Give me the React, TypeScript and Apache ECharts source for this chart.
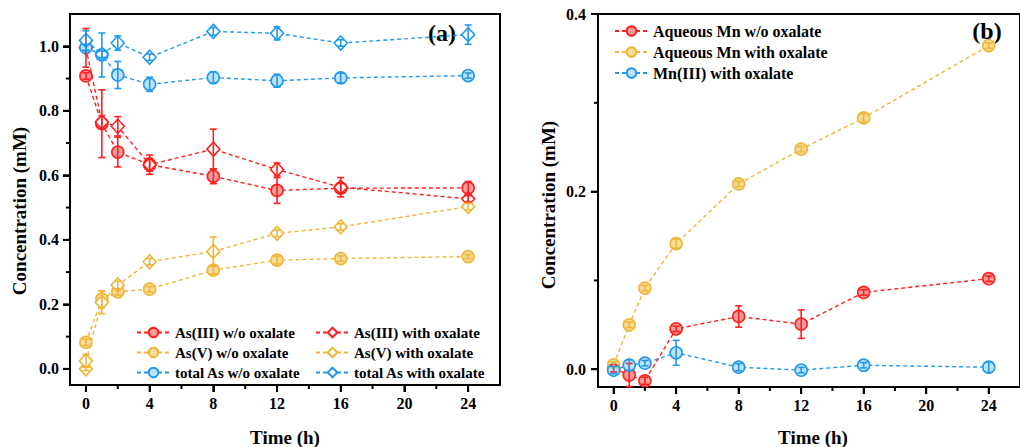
import React, { useEffect, useRef } from "react";
import * as echarts from "echarts";

// ---------- data ----------
const times = [0, 1, 2, 4, 8, 12, 16, 24];

// panel (a)
const asIIIWo = [0.908, 0.76, 0.672, 0.633, 0.597, 0.553, 0.56, 0.561];
const asIIIWoErr = [0.01, 0.105, 0.046, 0.03, 0.023, 0.04, 0.015, 0.02];
const asIIIWith = [0.995, 0.765, 0.752, 0.633, 0.681, 0.618, 0.563, 0.527];
const asIIIWithErr = [0.06, 0.02, 0.03, 0.02, 0.062, 0.02, 0.03, 0.01];
const asVWo = [0.082, 0.216, 0.239, 0.247, 0.306, 0.337, 0.342, 0.348];
const asVWoErr = [0.01, 0.025, 0.01, 0.008, 0.012, 0.012, 0.008, 0.006];
const asVWithTimes = [0, 0, 1, 2, 4, 8, 12, 16, 24];
const asVWith = [0.0, 0.025, 0.206, 0.26, 0.332, 0.364, 0.42, 0.44, 0.503];
const asVWithErr = [0.005, 0.02, 0.035, 0.012, 0.01, 0.045, 0.01, 0.01, 0.01];
const totalWo = [0.996, 0.973, 0.911, 0.882, 0.903, 0.893, 0.902, 0.909];
const totalWoErr = [0.01, 0.068, 0.042, 0.022, 0.018, 0.02, 0.015, 0.008];
const totalWith = [1.018, 0.975, 1.01, 0.966, 1.046, 1.04, 1.01, 1.036];
const totalWithErr = [0.03, 0.01, 0.022, 0.01, 0.012, 0.02, 0.01, 0.03];

// panel (b)
const mnWo = [0.001, -0.0065, -0.013, 0.0455, 0.0594, 0.0508, 0.0865, 0.102];
const mnWoErr = [0.004, 0.013, 0.004, 0.003, 0.012, 0.016, 0.003, 0.003];
const mnWith = [0.005, 0.05, 0.0914, 0.1414, 0.2087, 0.2478, 0.283, 0.3644];
const mnWithErr = [0.003, 0.003, 0.003, 0.005, 0.003, 0.003, 0.005, 0.003];
const mn3 = [-0.001, 0.0047, 0.0068, 0.0185, 0.0023, -0.001, 0.0045, 0.0023];
const mn3Err = [0.004, 0.006, 0.003, 0.014, 0.004, 0.003, 0.003, 0.006];

const xLabelValues = [0, 4, 8, 12, 16, 20, 24];
const xMinorValues = [2, 6, 10, 14, 18, 22];
const yLabelsA = [0, 0.2, 0.4, 0.6, 0.8, 1.0];
const yMinorA = [0.1, 0.3, 0.5, 0.7, 0.9];
const yLabelsB = [0, 0.2, 0.4];
const yMinorB = [0.1, 0.3];

// ---------- styles ----------
const RED = "#ff1f1f";
const RED_FILL = "#f59c9c";
const ORA = "#efb63a";
const ORA_FILL = "#f6dc96";
const BLU = "#2299ea";
const BLU_FILL = "#bde3f7";
const FONT = "'Liberation Serif', 'Times New Roman', serif";

const X_MIN = -1;
const X_MAX = 26;
const Y_MIN_A = -0.05;
const Y_MAX_A = 1.1;
const Y_MIN_B = -0.02;
const Y_MAX_B = 0.4;

function App() {
  const ref = useRef<HTMLDivElement>(null);

  useEffect(() => {
    if (!ref.current) return;
    const chart = echarts.init(ref.current, undefined, { renderer: "svg" });

    const pair = (xs: number[], ys: number[]) => xs.map((x, i) => [x, ys[i]]);
    const triple = (xs: number[], ys: number[], es: number[]) =>
      xs.map((x, i) => [x, ys[i], es[i]]);

    const lineSeries = (
      name: string,
      data: number[][],
      color: string,
      fill: string,
      symbol: string,
      gi: number
    ) => ({
      type: "line",
      name,
      data,
      xAxisIndex: gi * 2,
      yAxisIndex: gi * 2,
      symbol,
      symbolSize: symbol === "diamond" ? [13, 14] : 12,
      showAllSymbol: true,
      lineStyle: { color, width: 1.4, type: [4, 3] },
      itemStyle: { color: fill, borderColor: color, borderWidth: 1.6 },
      emphasis: { disabled: true },
      z: 3,
    });

    const errSeries = (data: number[][], color: string, gi: number) => ({
      type: "custom",
      name: "err",
      xAxisIndex: gi * 2,
      yAxisIndex: gi * 2,
      data,
      encode: { x: 0, y: 1 },
      z: 4,
      silent: true,
      renderItem: (params: any, api: any) => {
        const x = api.value(0);
        const y = api.value(1);
        const e = api.value(2);
        const top = api.coord([x, y + e]);
        const bot = api.coord([x, y - e]);
        const w = 3.5;
        const st = { stroke: color, lineWidth: 1.6 };
        return {
          type: "group",
          children: [
            { type: "line", shape: { x1: top[0], y1: top[1], x2: bot[0], y2: bot[1] }, style: st },
            { type: "line", shape: { x1: top[0] - w, y1: top[1], x2: top[0] + w, y2: top[1] }, style: st },
            { type: "line", shape: { x1: bot[0] - w, y1: bot[1], x2: bot[0] + w, y2: bot[1] }, style: st },
          ],
        };
      },
    });

    // tick marks drawn through the axes' own scales (api.coord)
    const xTickSeries = (gi: number, yMin: number, values: number[], len: number) => ({
      type: "custom",
      name: "ticks",
      xAxisIndex: gi * 2,
      yAxisIndex: gi * 2,
      data: values.map((v) => [v, yMin]),
      encode: { x: 0, y: 1 },
      clip: false,
      silent: true,
      z: 6,
      renderItem: (params: any, api: any) => {
        const p = api.coord([api.value(0), api.value(1)]);
        return {
          type: "line",
          shape: { x1: p[0], y1: p[1], x2: p[0], y2: p[1] + len },
          style: { stroke: "#000", lineWidth: 2 },
        };
      },
    });

    const yTickSeries = (gi: number, values: number[], len: number) => ({
      type: "custom",
      name: "ticks",
      xAxisIndex: gi * 2,
      yAxisIndex: gi * 2,
      data: values.map((v) => [X_MIN, v]),
      encode: { x: 0, y: 1 },
      clip: false,
      silent: true,
      z: 6,
      renderItem: (params: any, api: any) => {
        const p = api.coord([api.value(0), api.value(1)]);
        return {
          type: "line",
          shape: { x1: p[0] - len, y1: p[1], x2: p[0], y2: p[1] },
          style: { stroke: "#000", lineWidth: 2 },
        };
      },
    });

    const axisFont = { fontFamily: FONT, fontWeight: "bold", fontSize: 16, color: "#000" };

    const mkX = (gi: number) => [
      {
        type: "value",
        gridIndex: gi,
        position: "bottom",
        min: X_MIN,
        max: X_MAX,
        axisLine: { show: true, onZero: false, lineStyle: { color: "#000", width: 2 } },
        axisTick: { show: true, length: 7, lineStyle: { color: "#000", width: 2 }, customValues: xLabelValues },
        axisLabel: { ...axisFont, margin: 10, customValues: xLabelValues },
        splitLine: { show: false },
      },
      {
        type: "value",
        gridIndex: gi,
        position: "bottom",
        min: X_MIN,
        max: X_MAX,
        axisLine: { show: false, onZero: false },
        axisTick: { show: false },
        axisLabel: { show: false },
        splitLine: { show: false },
      },
    ];

    const mkY = (gi: number, min: number, max: number, labels: number[], margin: number) => [
      {
        type: "value",
        gridIndex: gi,
        position: "left",
        min,
        max,
        axisLine: { show: true, onZero: false, lineStyle: { color: "#000", width: 2 } },
        axisTick: { show: true, length: 7, lineStyle: { color: "#000", width: 2 }, customValues: labels },
        axisLabel: { ...axisFont, margin, customValues: labels, formatter: (v: number) => v.toFixed(1) },
        splitLine: { show: false },
      },
      {
        type: "value",
        gridIndex: gi,
        position: "left",
        min,
        max,
        axisLine: { show: false, onZero: false },
        axisTick: { show: false },
        axisLabel: { show: false },
        splitLine: { show: false },
      },
    ];

    const legendBase = {
      orient: "vertical",
      itemWidth: 33,
      itemHeight: 12,
      itemGap: 5,
      selectedMode: false,
      textStyle: { fontFamily: FONT, fontWeight: "bold", fontSize: 15, color: "#000" },
    };

    const txt = (text: string, x: number, y: number, size: number, rotate = false) => ({
      type: "text",
      x,
      y,
      rotation: rotate ? Math.PI / 2 : 0,
      style: {
        text,
        fontFamily: FONT,
        fontWeight: "bold",
        fontSize: size,
        fill: "#000",
        align: "center",
        verticalAlign: "middle",
      },
    });

    const option: any = {
      animation: false,
      backgroundColor: "#fff",
      grid: [
        { left: 70, top: 14, width: 430, height: 371, show: true, borderColor: "#000", borderWidth: 2 },
        { left: 598, top: 14, width: 445, height: 373, show: true, borderColor: "#000", borderWidth: 2 },
      ],
      xAxis: [...mkX(0), ...mkX(1)],
      yAxis: [
        ...mkY(0, Y_MIN_A, Y_MAX_A, yLabelsA, 11),
        ...mkY(1, Y_MIN_B, Y_MAX_B, yLabelsB, 12),
      ],
      legend: [
        {
          ...legendBase,
          left: 131,
          top: 320,
          data: ["As(III) w/o oxalate", "As(V) w/o oxalate", "total As w/o oxalate"],
        },
        {
          ...legendBase,
          left: 310,
          top: 320,
          data: ["As(III) with oxalate", "As(V) with oxalate", "total As with oxalate"],
        },
        {
          ...legendBase,
          left: 609,
          top: 18,
          textStyle: { ...legendBase.textStyle, fontSize: 16 },
          data: ["Aqueous Mn w/o oxalate", "Aqueous Mn with oxalate", "Mn(III) with oxalate"],
        },
      ],
      series: [
        lineSeries("As(III) w/o oxalate", pair(times, asIIIWo), RED, RED_FILL, "circle", 0),
        lineSeries("As(III) with oxalate", pair(times, asIIIWith), RED, "#fff", "diamond", 0),
        lineSeries("As(V) w/o oxalate", pair(times, asVWo), ORA, ORA_FILL, "circle", 0),
        lineSeries("As(V) with oxalate", pair(asVWithTimes, asVWith), ORA, "#fff", "diamond", 0),
        lineSeries("total As w/o oxalate", pair(times, totalWo), BLU, BLU_FILL, "circle", 0),
        lineSeries("total As with oxalate", pair(times, totalWith), BLU, "#fff", "diamond", 0),
        errSeries(triple(times, asIIIWo, asIIIWoErr), RED, 0),
        errSeries(triple(times, asIIIWith, asIIIWithErr), RED, 0),
        errSeries(triple(times, asVWo, asVWoErr), ORA, 0),
        errSeries(triple(asVWithTimes, asVWith, asVWithErr), ORA, 0),
        errSeries(triple(times, totalWo, totalWoErr), BLU, 0),
        errSeries(triple(times, totalWith, totalWithErr), BLU, 0),

        lineSeries("Aqueous Mn w/o oxalate", pair(times, mnWo), RED, RED_FILL, "circle", 1),
        lineSeries("Aqueous Mn with oxalate", pair(times, mnWith), ORA, ORA_FILL, "circle", 1),
        lineSeries("Mn(III) with oxalate", pair(times, mn3), BLU, BLU_FILL, "circle", 1),
        errSeries(triple(times, mnWo, mnWoErr), RED, 1),
        errSeries(triple(times, mnWith, mnWithErr), ORA, 1),
        errSeries(triple(times, mn3, mn3Err), BLU, 1),

        xTickSeries(0, Y_MIN_A, xLabelValues, 7),
        xTickSeries(0, Y_MIN_A, xMinorValues, 4),
        yTickSeries(0, yLabelsA, 7),
        yTickSeries(0, yMinorA, 4),
        xTickSeries(1, Y_MIN_B, xLabelValues, 7),
        xTickSeries(1, Y_MIN_B, xMinorValues, 4),
        yTickSeries(1, yLabelsB, 7),
        yTickSeries(1, yMinorB, 4),
      ],
      graphic: [
        txt("(a)", 442, 33, 24),
        txt("(b)", 987, 31, 24),
        txt("Time (h)", 285, 437, 19),
        txt("Time (h)", 813, 437, 19),
        txt("Concentration (mM)", 19, 211, 19, true),
        txt("Concentration (mM)", 548, 205, 19, true),
      ],
    };

    chart.setOption(option);
    return () => chart.dispose();
  }, []);

  return (
    <div
      ref={ref}
      style={{ position: "fixed", left: 0, top: 0, width: 1020, height: 447, background: "#fff" }}
    />
  );
}

export default App;
